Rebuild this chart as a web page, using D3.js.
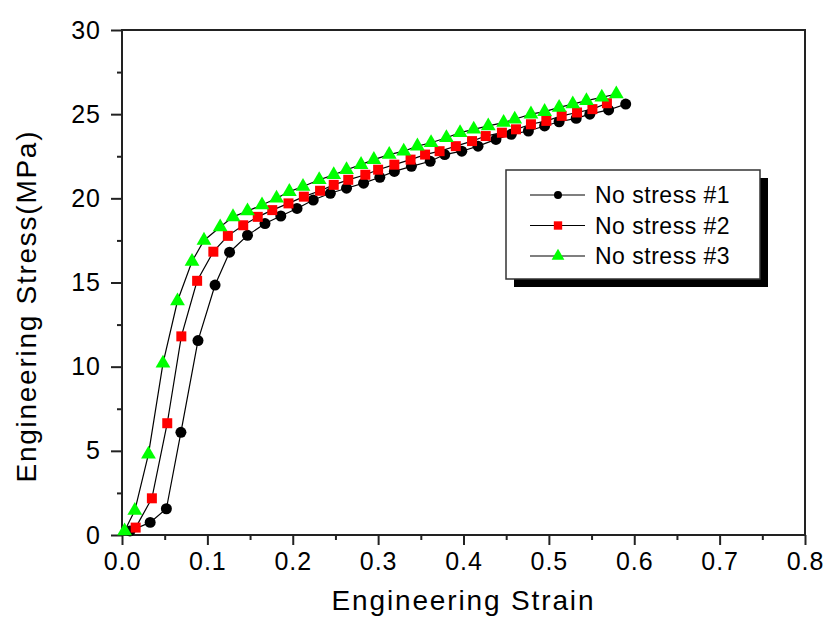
<!DOCTYPE html>
<html>
<head>
<meta charset="utf-8">
<script src="https://cdn.jsdelivr.net/npm/d3@7"></script>
<style>
  body { margin: 0; background: #fff; }
  text { font-family: "Liberation Sans", Arial, sans-serif; fill: #000; }
</style>
</head>
<body>
<svg id="chart" width="829" height="639"></svg>
<script>
// Data
var strain1 = [0.0094, 0.033, 0.052, 0.069, 0.089, 0.109, 0.126, 0.147, 0.1675, 0.186, 0.205, 0.224, 0.244, 0.263, 0.283, 0.302,
               0.319, 0.339, 0.361, 0.378, 0.398, 0.417, 0.438, 0.456, 0.476, 0.495, 0.512, 0.532, 0.548, 0.570, 0.590];
var stress1 = [0.24, 0.75, 1.56, 6.1, 11.55, 14.85, 16.8, 17.8, 18.5, 18.95, 19.4, 19.9, 20.3, 20.6, 20.9, 21.25,
               21.6, 21.9, 22.2, 22.6, 22.8, 23.1, 23.5, 23.8, 24.0, 24.3, 24.55, 24.75, 25.0, 25.25, 25.6];

var strain2 = [0.016, 0.035, 0.053, 0.0695, 0.088, 0.107, 0.124, 0.142, 0.159, 0.176, 0.195, 0.213, 0.232, 0.248, 0.265, 0.285,
               0.300, 0.319, 0.338, 0.355, 0.372, 0.391, 0.410, 0.426, 0.445, 0.4615, 0.479, 0.497, 0.515, 0.533, 0.551, 0.568];
var stress2 = [0.44, 2.18, 6.64, 11.8, 15.1, 16.83, 17.77, 18.4, 18.9, 19.3, 19.7, 20.1, 20.45, 20.8, 21.1, 21.4,
               21.7, 22.0, 22.3, 22.6, 22.8, 23.1, 23.4, 23.7, 23.9, 24.1, 24.4, 24.6, 24.9, 25.1, 25.3, 25.65];

var strain3 = [0.003, 0.015, 0.031, 0.048, 0.065, 0.082, 0.096, 0.115, 0.130, 0.147, 0.164, 0.181, 0.196, 0.212, 0.231, 0.248, 0.263, 0.280,
               0.295, 0.313, 0.330, 0.346, 0.362, 0.380, 0.396, 0.412, 0.429, 0.447, 0.460, 0.479, 0.495, 0.512, 0.528, 0.544, 0.562, 0.579];
var stress3 = [0.24, 1.45, 4.8, 10.2, 13.9, 16.25, 17.5, 18.3, 18.9, 19.25, 19.6, 20.0, 20.4, 20.7, 21.1, 21.4, 21.7, 22.0,
               22.3, 22.6, 22.8, 23.1, 23.3, 23.6, 23.9, 24.1, 24.3, 24.5, 24.7, 25.0, 25.15, 25.4, 25.6, 25.8, 26.0, 26.2];

var seriesNames = ["No stress #1", "No stress #2", "No stress #3"];
var xTicks = [0, 0.1, 0.2, 0.3, 0.4, 0.5, 0.6, 0.7, 0.8];
var yTicks = [0, 5, 10, 15, 20, 25, 30];

// Layout
var margin = {left: 122, right: 24, top: 30, bottom: 104};
var width = 829 - margin.left - margin.right;
var height = 639 - margin.top - margin.bottom;

var svg = d3.select("svg#chart").append("g")
    .attr("transform", "translate(" + margin.left + "," + margin.top + ")");

var x = d3.scaleLinear().domain([0, 0.8]).range([0, width]);
var y = d3.scaleLinear().domain([0, 30]).range([height, 0]);

var series = [
    {name: seriesNames[0], xs: strain1, ys: stress1, color: "#000000", shape: d3.symbolCircle, size: 95},
    {name: seriesNames[1], xs: strain2, ys: stress2, color: "#ff0000", shape: d3.symbolSquare, size: 100},
    {name: seriesNames[2], xs: strain3, ys: stress3, color: "#00ff00", shape: d3.symbolTriangle, size: 95}
];

// minor ticks
var xMinor = d3.axisBottom(x).tickValues(d3.range(0.05, 0.8, 0.1)).tickSize(5).tickFormat("");
var yMinor = d3.axisLeft(y).tickValues(d3.range(2.5, 30, 5)).tickSize(5).tickFormat("");
svg.append("g").attr("class", "axis").attr("transform", "translate(0," + height + ")").call(xMinor);
svg.append("g").attr("class", "axis").call(yMinor);

// major ticks
var xAxis = d3.axisBottom(x).tickValues(xTicks).tickSize(10).tickPadding(7).tickFormat(d3.format(".1f"));
var yAxis = d3.axisLeft(y).tickValues(yTicks).tickSize(11).tickPadding(10).tickFormat(d3.format("d"));
svg.append("g").attr("class", "axis").attr("transform", "translate(0," + height + ")").call(xAxis);
svg.append("g").attr("class", "axis").call(yAxis);

svg.selectAll(".axis path").remove();
svg.selectAll(".axis line").attr("stroke", "#222").attr("stroke-width", 2);
svg.selectAll(".axis text").style("font-size", "25px").style("letter-spacing", "1px")
    .style("font-family", "'Liberation Sans', Arial, sans-serif").attr("fill", "#000");

// frame
svg.append("rect").attr("x", 0).attr("y", 0).attr("width", width).attr("height", height)
    .attr("fill", "none").attr("stroke", "#222").attr("stroke-width", 2);

// axis titles
svg.append("text").attr("x", width / 2 - 1).attr("y", height + 75)
    .attr("text-anchor", "middle").style("font-size", "28px")
    .attr("textLength", 262).attr("lengthAdjust", "spacing")
    .text("Engineering Strain");
svg.append("text").attr("transform", "rotate(-90)")
    .attr("x", -(307 - margin.top)).attr("y", 41 - margin.left - 5)
    .attr("text-anchor", "middle").style("font-size", "28px")
    .attr("textLength", 351).attr("lengthAdjust", "spacing")
    .text("Engineering Stress(MPa)");

// lines and markers
var line = d3.line().x(function(d) { return x(d[0]); }).y(function(d) { return y(d[1]); });
series.forEach(function(s) {
    var pts = s.xs.map(function(v, i) { return [v, s.ys[i]]; });
    svg.append("path").datum(pts).attr("fill", "none").attr("stroke", "#000").attr("stroke-width", 1.2).attr("d", line);
});
series.forEach(function(s) {
    var pts = s.xs.map(function(v, i) { return [v, s.ys[i]]; });
    svg.append("g").selectAll("path").data(pts).enter().append("path")
        .attr("transform", function(d) { return "translate(" + x(d[0]) + "," + y(d[1]) + ")"; })
        .attr("d", d3.symbol().type(s.shape).size(s.size))
        .attr("fill", s.color);
});

// legend
var lg = d3.select("svg#chart").append("g").attr("transform", "translate(506,170)");
lg.append("rect").attr("x", 8).attr("y", 8).attr("width", 254).attr("height", 109).attr("fill", "#000");
lg.append("rect").attr("x", 0).attr("y", 0).attr("width", 254).attr("height", 109)
    .attr("fill", "#fff").attr("stroke", "#333").attr("stroke-width", 1.5);
series.forEach(function(s, i) {
    var ly = 25 + i * 30.5;
    lg.append("line").attr("x1", 24).attr("x2", 79).attr("y1", ly).attr("y2", ly).attr("stroke", "#000").attr("stroke-width", 1.2);
    lg.append("path").attr("transform", "translate(52," + ly + ")")
        .attr("d", d3.symbol().type(s.shape).size(i == 0 ? 50 : 70)).attr("fill", s.color);
    lg.append("text").attr("x", 89).attr("y", ly + 8).style("font-size", "23px").style("letter-spacing", "0.5px").text(s.name);
});
</script>
</body>
</html>
